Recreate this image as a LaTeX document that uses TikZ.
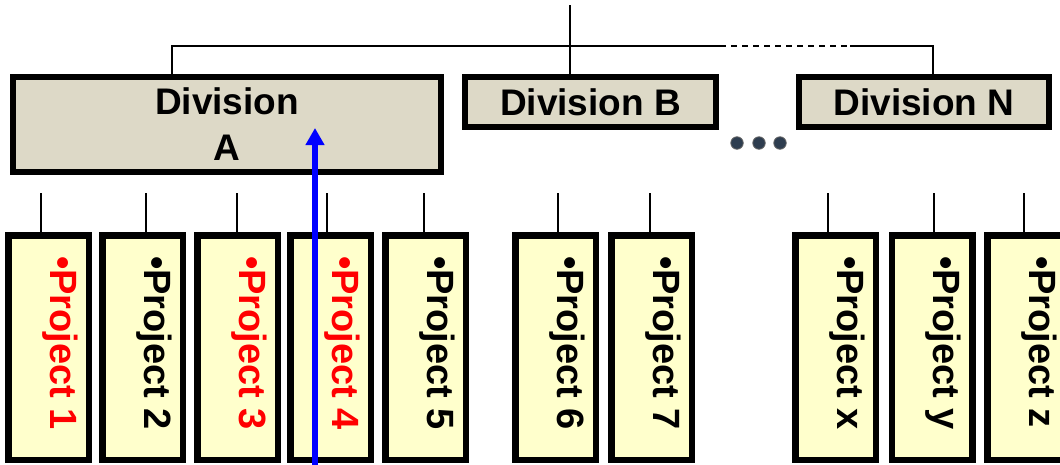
\documentclass[tikz,border=0pt]{standalone}
\usepackage{fontspec}
\setmainfont{Liberation Sans}
\usetikzlibrary{arrows.meta,calc}
\definecolor{divfill}{HTML}{DDD9C7}
\definecolor{projfill}{HTML}{FFFFCC}
\definecolor{dotcol}{HTML}{2E3D4F}
\begin{document}
\begin{tikzpicture}[x=1pt,y=-1pt,
  divbox/.style={draw=black, line width=6.5pt, fill=divfill, inner sep=0pt,
    font=\bfseries\fontsize{37}{46}\selectfont, align=center},
  projbox/.style={draw=black, line width=6.5pt, fill=projfill, inner sep=0pt,
    minimum width=80.5pt, minimum height=224.5pt},
  ptext/.style={rotate=-90, anchor=base west, inner sep=0pt,
    font=\bfseries\fontsize{38}{42}\selectfont},
  conn/.style={line width=1.5pt, black},
  dotnode/.style={circle, fill=dotcol, draw=black!60, line width=0.8pt,
    minimum size=12.5pt, inner sep=0pt}]
\useasboundingbox (0,0) rectangle (1060,464);

% divisions
\node[divbox, minimum width=428pt, minimum height=95pt] (dA) at (227,124.5) {Division\\A};
\node[divbox, minimum width=251pt, minimum height=50pt] (dB) at (590.5,102) {Division B};
\node[divbox, minimum width=250pt, minimum height=50pt] (dN) at (924,102) {Division N};

% top connectors
\coordinate (top) at (570,5);
\coordinate (hA) at (172,46);
\coordinate (hD1) at (720,46);
\coordinate (hD2) at (850,46);
\coordinate (hN) at (933,46);
\draw[conn] (top) -- (top |- dB.north);
\draw[conn] (hA |- dA.north) -- (hA) -- (hD1);
\draw[conn, dash pattern=on 6pt off 5pt] (hD1) -- (hD2);
\draw[conn] (hD2) -- (hN) -- (hN |- dN.north);

% dots
\node[dotnode] (o1) at (737,143) {};
\node[dotnode] (o2) at (759,143) {};
\node[dotnode] (o3) at (780,143) {};

% projects
\foreach \n/\cx/\sx/\lab/\col in {
  1/48.5/41/1/red, 2/142.5/146/2/black, 3/237.5/237/3/red, 4/330.5/327/4/red,
  5/425.5/424/5/black, 6/555.5/558/6/black, 7/651.5/650/7/black,
  8/835.5/828/x/black, 9/932/934/y/black, 10/1027.5/1024/z/black}{
  \node[projbox] (p\n) at (\cx,347.5) {};
  \node[ptext, text=\col] (t\n) at ($(p\n.north)+(1.5,24)$) {•Project \lab};
  \coordinate (s\n) at (\sx,193);
  \draw[conn] (s\n) -- (s\n |- p\n.north);
}

% blue arrow
\coordinate (aS) at (315,466);
\coordinate (aE) at (315,128);
\draw[line width=6pt, blue, -{Triangle[length=17pt,width=18pt]}] (aS) -- (aE);
\end{tikzpicture}
\end{document}
